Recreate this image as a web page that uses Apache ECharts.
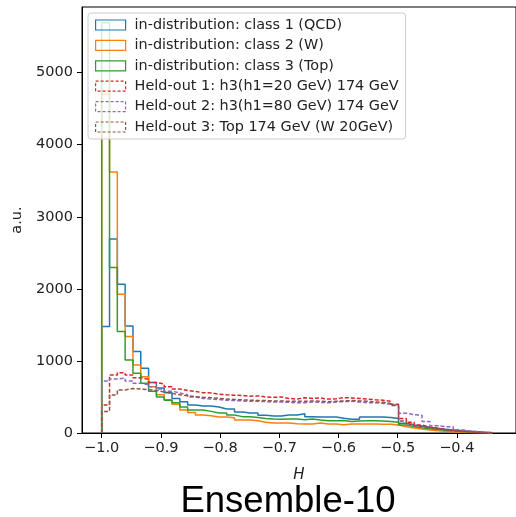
<!DOCTYPE html>
<html><head><meta charset="utf-8">
<script src="https://cdn.jsdelivr.net/npm/echarts@6/dist/echarts.min.js"></script>
<style>html,body{margin:0;padding:0;background:#fff}#c{width:516px;height:517px}</style>
</head><body><div id="c"></div>
<script>
// Histogram binning (H axis)
const binStart = -1.0;
const binWidth = 0.0132;
const xTicks = [-1.0, -0.9, -0.8, -0.7, -0.6, -0.5, -0.4];
const yTicks = [0, 1000, 2000, 3000, 4000, 5000];

const seriesNames = [
  'in-distribution: class 1 (QCD)',
  'in-distribution: class 2 (W)',
  'in-distribution: class 3 (Top)',
  'Held-out 1: h3(h1=20 GeV) 174 GeV',
  'Held-out 2: h3(h1=80 GeV) 174 GeV',
  'Held-out 3: Top 174 GeV (W 20GeV)'
];
const seriesColors = ['#1f77b4', '#ff7f0e', '#2ca02c', '#d62728', '#9467bd', '#8c564b'];

const qcd = [1477,2690,2065,1486,1130,898,700,625,560,480,435,390,375,375,360,333,333,290,278,278,
  245,236,236,250,250,268,225,222,222,222,205,190,190,222,222,222,215,200,134,110,
  97,80,65,52,42,32,24,16,10,5];
const wCls = [4700,3621,1926,1338,945,780,640,530,460,400,320,285,250,240,222,222,210,180,180,170,
  150,139,139,139,130,125,125,139,125,125,115,125,125,125,125,120,120,110,88,70,
  55,42,32,25,18,12,8,5,3,1];
const topCls = [5690,2296,1407,1014,829,690,580,500,455,420,361,320,320,300,278,278,250,227,227,215,
  200,194,190,195,195,185,195,180,170,170,175,160,165,170,170,165,160,150,111,90,
  74,60,48,38,30,22,16,11,7,4];
const held1 = [390,805,835,805,765,746,700,680,640,610,590,575,560,555,540,530,525,520,510,515,
  500,495,500,480,470,490,480,485,470,475,490,486,480,470,460,455,440,400,200,150,
  110,85,65,50,38,28,18,12,7,4];
const held2 = [720,750,760,720,690,670,640,610,580,555,530,500,480,470,465,455,450,445,440,440,
  435,430,430,425,420,420,430,425,420,430,435,440,430,420,420,410,400,380,275,255,
  245,160,100,88,88,45,30,20,12,6];
const held3 = [300,528,597,616,610,600,590,570,550,530,515,505,495,490,480,470,465,460,455,450,
  450,445,445,440,440,440,445,440,435,440,445,450,445,440,430,425,410,380,165,120,
  90,70,55,42,32,22,15,10,6,3];

const allValues = [qcd, wCls, topCls, held1, held2, held3];

function stepPoints(vals) {
  const pts = [[binStart, 0]];
  vals.forEach((v, i) => {
    const a = binStart + i * binWidth;
    pts.push([a, v]);
    pts.push([a + binWidth, v]);
  });
  pts.push([binStart + vals.length * binWidth, 0]);
  return pts;
}

const font = 'DejaVu Sans';
const chart = echarts.init(document.getElementById('c'), null, {renderer: 'canvas'});
chart.setOption({
  animation: false,
  backgroundColor: '#fff',
  grid: {left: 82, top: 7, width: 440, height: 426, show: true, borderColor: '#000', borderWidth: 1, backgroundColor: 'transparent'},
  xAxis: {
    type: 'value', min: -1.0333, max: -0.3,
    name: 'H', nameLocation: 'middle', nameGap: 35,
    nameTextStyle: {fontFamily: font, fontStyle: 'italic', fontSize: 15, color: '#222'},
    axisLine: {show: true, onZero: false, lineStyle: {color: '#000', width: 1}},
    axisTick: {show: true, length: 5, inside: false, customValues: xTicks, lineStyle: {color: '#000', width: 1}},
    axisLabel: {customValues: xTicks, formatter: v => Number(v).toFixed(1).replace('-', '\u2212'),
      fontFamily: font, fontSize: 14.5, color: '#222', margin: 8},
    splitLine: {show: false}
  },
  yAxis: {
    type: 'value', min: 0, max: 5910,
    name: 'a.u.', nameLocation: 'middle', nameGap: 52, nameRotate: 90,
    nameTextStyle: {fontFamily: font, fontSize: 14.5, color: '#222'},
    axisLine: {show: true, lineStyle: {color: '#000', width: 1}},
    axisTick: {show: true, length: 5, inside: false, customValues: yTicks, lineStyle: {color: '#000', width: 1}},
    axisLabel: {customValues: yTicks, formatter: v => String(Math.round(v)),
      fontFamily: font, fontSize: 14.5, color: '#222', margin: 9},
    splitLine: {show: false}
  },
  legend: {
    orient: 'vertical', left: 88, top: 13,
    padding: [5, 7, 5, 7],
    itemWidth: 30, itemHeight: 10, itemGap: 6.4,
    icon: 'rect',
    backgroundColor: 'rgba(255,255,255,0.8)',
    borderColor: '#cccccc', borderWidth: 1, borderRadius: 3,
    selectedMode: false,
    textStyle: {fontFamily: font, fontSize: 14.4, color: '#222', lineHeight: 14, padding: [0, 0, 0, 4]},
    data: seriesNames.map((n, i) => ({
      name: n,
      itemStyle: {color: 'rgba(0,0,0,0)', borderColor: seriesColors[i], borderWidth: 1.2, borderType: i >= 3 ? [3, 2] : 'solid'}
    }))
  },
  graphic: [{
    type: 'text', z: 10,
    style: {text: 'Ensemble-10', x: 288, y: 502, textAlign: 'center', textVerticalAlign: 'middle',
      fontFamily: 'Liberation Sans', fontSize: 36.5, fill: '#000'}
  }],
  series: allValues.map((vals, i) => ({
    name: seriesNames[i],
    type: 'line',
    data: stepPoints(vals),
    showSymbol: false, symbol: 'none',
    color: seriesColors[i],
    lineStyle: {color: seriesColors[i], width: 1.5, type: i >= 3 ? [4, 2] : 'solid'},
    clip: true
  }))
});
</script></body></html>
